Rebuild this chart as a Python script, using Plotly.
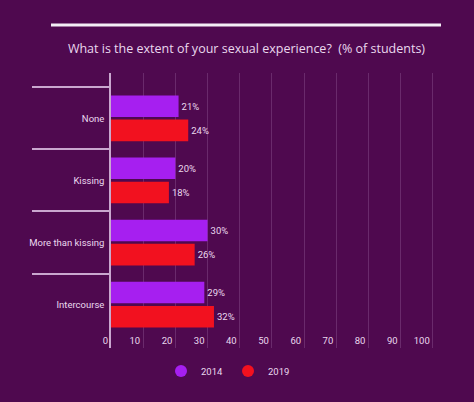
import plotly.graph_objects as go

categories = ["None", "Kissing", "More than kissing", "Intercourse"]
values_2014 = [21, 20, 30, 29]
values_2019 = [24, 18, 26, 32]
series_names = ["2014", "2019"]
x_ticks = [0, 10, 20, 30, 40, 50, 60, 70, 80, 90, 100]

BG = "#4f094f"
PURPLE = "#a61ff0"
RED = "#f2111f"
TXT = "#ead8ee"
LINE = "#c9a7cf"
GRID = "#6a2a6c"

fig = go.Figure()
for name, vals, col in [(series_names[0], values_2014, PURPLE), (series_names[1], values_2019, RED)]:
    fig.add_trace(go.Bar(
        y=categories, x=vals, orientation="h", name=name,
        marker=dict(color=col, line=dict(width=0)),
        text=[f"{v}%" for v in vals], textposition="outside",
        textfont=dict(family="Roboto", size=9.5, color=TXT),
        cliponaxis=False, showlegend=False,
    ))
    fig.add_trace(go.Scatter(
        x=[None], y=[None], mode="markers", name=name,
        marker=dict(color=col, size=12, symbol="circle"),
        showlegend=True,
    ))

fig.update_layout(
    width=474, height=402,
    paper_bgcolor=BG, plot_bgcolor=BG,
    margin=dict(l=111, r=38, t=73, b=54),
    barmode="group", bargap=0.22, bargroupgap=0.11,
    title=dict(text="What is the extent of your sexual experience?  (% of students)",
               x=0.52, xanchor="center", y=0.88, yanchor="middle",
               font=dict(family="Open Sans", size=12.5, color=TXT)),
    font=dict(family="Roboto", size=9.5, color=TXT),
    legend=dict(orientation="h", x=0.36, xanchor="center", y=-0.031, yanchor="top",
                font=dict(family="Roboto", size=9.5, color=TXT),
                bgcolor="rgba(0,0,0,0)", itemwidth=30),
    showlegend=True,
)
fig.update_xaxes(
    range=[0, 101], tickvals=x_ticks, ticktext=[str(t) for t in x_ticks],
    showgrid=True, gridcolor=GRID, gridwidth=1, zeroline=False,
    showline=False, ticks="", ticklabelposition="outside left",
    ticklabelstandoff=-15, ticklabelshift=-3,
    tickfont=dict(family="Roboto", size=9.5, color=TXT),
)
fig.update_yaxes(
    categoryorder="array", categoryarray=categories,
    range=[3.698, -0.729], showgrid=False, zeroline=False,
    showline=True, linecolor=LINE, linewidth=1.5,
    ticks="outside", tickson="boundaries", ticklen=77, tickcolor=LINE, tickwidth=1.5,
    ticklabelstandoff=3,
    tickfont=dict(family="Roboto", size=9.5, color=TXT),
)
fig.add_shape(type="line", xref="paper", yref="paper",
              x0=-0.1846, x1=1.0154, y0=1.1745, y1=1.1745,
              line=dict(color="#f4eef6", width=3))

fig.write_html("out.html", config={"displayModeBar": False},
               post_script="document.body.style.margin='0px';")
